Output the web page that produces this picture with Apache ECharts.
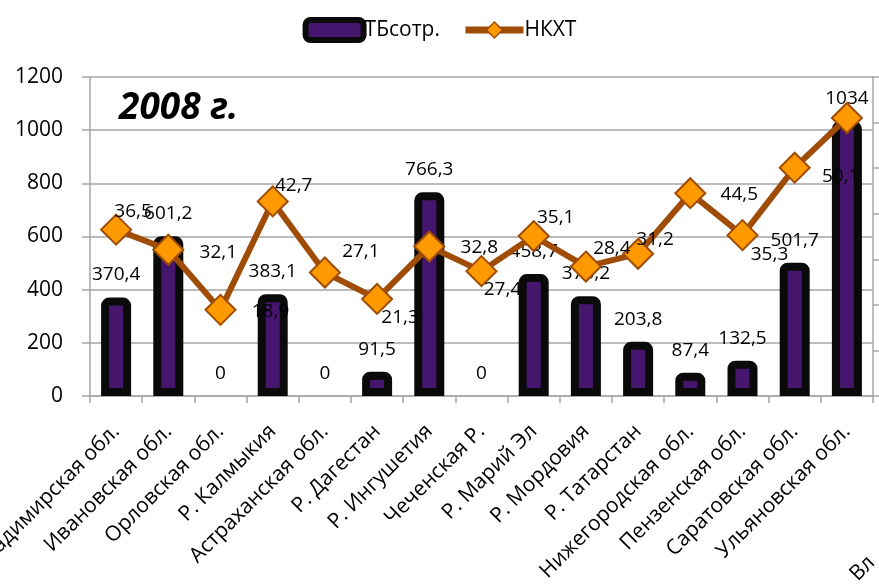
<!DOCTYPE html>
<html>
<head>
<meta charset="utf-8">
<script src="https://cdn.jsdelivr.net/npm/echarts@6/dist/echarts.min.js"></script>
<style>
html,body{margin:0;padding:0;background:#fff;}
#chart{width:879px;height:584px;}
</style>
</head>
<body>
<div id="chart"></div>
<script>
const categories = ['Владимирская обл.', 'Ивановская обл.', 'Орловская обл.', 'Р. Калмыкия', 'Астраханская обл.', 'Р. Дагестан', 'Р. Ингушетия', 'Чеченская Р.', 'Р. Марий Эл', 'Р. Мордовия', 'Р. Татарстан', 'Нижегородская обл.', 'Пензенская обл.', 'Саратовская обл.', 'Ульяновская обл.'];
const tbValues = [370.4, 601.2, 0, 383.1, 0, 91.5, 766.3, 0, 458.7, 375.2, 203.8, 87.4, 132.5, 501.7, 1034];
const nkhtValues = [36.5, 32.1, 18.9, 42.7, 27.1, 21.3, 32.8, 27.4, 35.1, 28.4, 31.2, 44.5, 35.3, 50.1, 61.0];
const leftTicks = {min: 0, max: 1200, interval: 200};
const rightTicks = {min: 0, max: 70, interval: 10};
const titleText = '2008 г.';
const seriesNames = ['ТБсотр.', 'НКХТ'];

// label placement (layout only)
const nkhtLabelOffsets = [[17,-18],[50,3],[50,2],[21,-16],[36,-21],[23,19],[50,1],[21,18],[22,-18],[26,-18],[17,-14],[49,1],[27,19],[46,9],[50,0]];

const FONT = '"Open Sans", "Liberation Sans", sans-serif';
const fmt = v => String(v).replace('.', ',');
const PURPLE = '#46166f';
const BROWN = '#9e4c06';
const ORANGE = '#ff9900';
const GRID = '#a6a6a6';

const chart = echarts.init(document.getElementById('chart'), null, {renderer: 'canvas'});
chart.setOption({
  animation: false,
  backgroundColor: '#fff',
  textStyle: {fontFamily: FONT},
  title: {
    text: titleText, left: 114, top: 85,
    textStyle: {fontFamily: FONT, fontSize: 37, fontWeight: 'bold', fontStyle: 'italic', color: '#000'}
  },
  legend: {
    top: 12, left: 'center', itemWidth: 58, itemHeight: 20, itemGap: 22,
    textStyle: {fontFamily: FONT, fontSize: 21, color: '#000', padding: [0,0,0,-4]},
    data: [
      {name: seriesNames[0], icon: 'roundRect', itemStyle: {color: PURPLE, borderColor: '#0a0a0a', borderWidth: 6}},
      {name: seriesNames[1], lineStyle: {width: 7, color: BROWN}, itemStyle: {color: ORANGE, borderColor: BROWN, borderWidth: 1.5}}
    ]
  },
  grid: {left: 90, right: 6, top: 77, bottom: 188, containLabel: false, outerBoundsMode: 'none'},
  xAxis: {
    type: 'category', data: categories,
    axisLine: {lineStyle: {color: GRID, width: 1.5}},
    axisTick: {show: true, length: 7, lineStyle: {color: GRID, width: 1.5}},
    axisLabel: {interval: 0, rotate: 45, margin: 32, fontFamily: FONT, fontSize: 21, color: '#000'}
  },
  yAxis: [
    {
      type: 'value', min: leftTicks.min, max: leftTicks.max, interval: leftTicks.interval,
      axisLine: {show: true, lineStyle: {color: GRID, width: 1.5}},
      axisTick: {show: true, length: 8, lineStyle: {color: GRID, width: 1.5}},
      axisLabel: {margin: 27, fontFamily: FONT, fontSize: 21, color: '#000', formatter: v => String(v)},
      splitLine: {lineStyle: {color: GRID, width: 1.5}}
    },
    {
      type: 'value', position: 'right', min: rightTicks.min, max: rightTicks.max, interval: rightTicks.interval,
      axisLine: {show: true, lineStyle: {color: GRID, width: 1.5}},
      axisTick: {show: true, length: 6, lineStyle: {color: GRID, width: 1.5}},
      axisLabel: {show: false},
      splitLine: {show: false}
    }
  ],
  series: [
    {
      name: seriesNames[0], type: 'bar', yAxisIndex: 0, barWidth: 30,
      itemStyle: {color: PURPLE, borderColor: '#0a0a0a', borderWidth: 8, borderRadius: [4, 4, 0, 0]},
      label: {show: true, position: 'top', distance: 13, fontFamily: FONT, fontSize: 19, color: '#000', formatter: p => fmt(p.value)},
      labelLayout: {hideOverlap: false, moveOverlap: false},
      data: tbValues.map((v, i) => {
        const item = {value: v};
        if (v === 0) item.itemStyle = {borderWidth: 0, color: 'rgba(0,0,0,0)', borderColor: 'rgba(0,0,0,0)'};
        if (i === tbValues.length - 1) item.label = {offset: [0, -12]};
        return item;
      }),
      z: 2
    },
    {
      name: seriesNames[1], type: 'line', yAxisIndex: 1,
      symbol: 'diamond', symbolSize: 30,
      lineStyle: {color: BROWN, width: 6},
      itemStyle: {color: ORANGE, borderColor: BROWN, borderWidth: 2},
      label: {show: true, position: 'inside', fontFamily: FONT, fontSize: 19, color: '#000', formatter: p => fmt(p.value)},
      data: nkhtValues.map((v, i) => ({value: v, label: {offset: nkhtLabelOffsets[i]}})),
      z: 5
    }
  ],
  graphic: [
    {type: 'text', left: 846, top: 552, rotation: Math.PI / 4, style: {text: 'Вл', font: '21px ' + FONT, fill: '#000'}}
  ]
});
</script>
</body>
</html>
